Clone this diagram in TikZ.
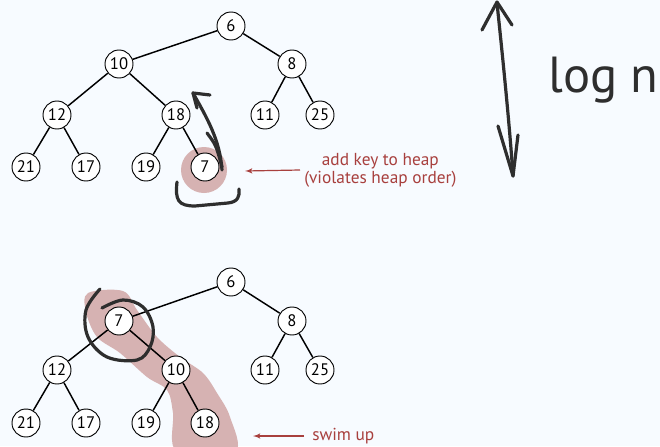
\documentclass[tikz,border=0pt]{standalone}
\usepackage{fontspec}
\setmainfont{PT Sans}
\usetikzlibrary{
  shapes,
  arrows,
  positioning,
}
\definecolor{paper}{HTML}{F7FBFF}
\definecolor{notered}{HTML}{A8403E}
\definecolor{marker}{HTML}{D6B2B2}
\definecolor{ink}{HTML}{2E2E2E}
\tikzstyle{key} = [
circle,
draw,
fill=white,
line width=0.7pt,
minimum size=21pt,
inner sep=0pt,
font=\fontsize{12.5}{14}\selectfont
]
\tikzstyle{link} = [draw, line width=1.1pt]
\tikzstyle{note} = [
text=notered,
align=center,
inner sep=3pt,
font=\fontsize{13}{13.5}\selectfont
]
\tikzstyle{arrow} = [draw, notered, line width=0.9pt, -latex']
\tikzstyle{pen} = [draw, ink, line width=2.4pt, line cap=round, line join=round]

\begin{document}
\begin{tikzpicture}[x=0.75pt, y=-0.75pt]
  \fill[paper] (0,0) rectangle (660,446);
  \useasboundingbox (0,0) rectangle (660,446);

  % Highlights behind the keys
  \fill[marker] (204,170) circle (23);
  \fill[marker] plot[smooth cycle, tension=0.55] coordinates {
    (88,293) (123,291) (137,310) (157,337) (180,357) (203,373) (217,393)
    (230,417) (235,452) (177,452) (173,413) (167,390) (147,377) (120,353)
    (97,337) (86,312)};

  % Place nodes: heap with the new key at the bottom
  \node [key] (a6) at (231,26) {6};
  \node [key] (a10) at (119,64) {10};
  \node [key] (a8) at (292,64) {8};
  \node [key] (a12) at (57,115) {12};
  \node [key] (a18) at (176,115) {18};
  \node [key] (a11) at (265,115) {11};
  \node [key] (a25) at (320,115) {25};
  \node [key] (a21) at (26,167) {21};
  \node [key] (a17) at (86,167) {17};
  \node [key] (a19) at (146,167) {19};
  \node [key] (a7) at (205,167) {7};

  % Place nodes: heap after swim up
  \node [key] (b6) at (231,282) {6};
  \node [key] (b7) at (119,321) {7};
  \node [key] (b8) at (292,321) {8};
  \node [key] (b12) at (57,370) {12};
  \node [key] (b10) at (176,370) {10};
  \node [key] (b11) at (265,370) {11};
  \node [key] (b25) at (320,370) {25};
  \node [key] (b21) at (26,423) {21};
  \node [key] (b17) at (86,423) {17};
  \node [key] (b19) at (146,423) {19};
  \node [key] (b18) at (205,423) {18};

  % Draw edges
  \path [link] (a6) -- (a10);
  \path [link] (a6) -- (a8);
  \path [link] (a10) -- (a12);
  \path [link] (a10) -- (a18);
  \path [link] (a8) -- (a11);
  \path [link] (a8) -- (a25);
  \path [link] (a12) -- (a21);
  \path [link] (a12) -- (a17);
  \path [link] (a18) -- (a19);
  \path [link] (a18) -- (a7);

  \path [link] (b6) -- (b7);
  \path [link] (b6) -- (b8);
  \path [link] (b7) -- (b12);
  \path [link] (b7) -- (b10);
  \path [link] (b8) -- (b11);
  \path [link] (b8) -- (b25);
  \path [link] (b12) -- (b21);
  \path [link] (b12) -- (b17);
  \path [link] (b10) -- (b19);
  \path [link] (b10) -- (b18);

  % Notes
  \node [note, anchor=west] (addkey) at (300,170)
    {add key to heap\\(violates heap order)};
  \coordinate (addtip) at (245,171);
  \path [arrow] (addkey.west) -- (addtip);

  \node [note, anchor=west] (swim) at (308,436) {swim up};
  \coordinate (swimtip) at (253,436);
  \path [arrow] (swim.west) ++(-4,0) -- (swimtip);

  % Pen marks
  \path [pen] (193,93) .. controls (207,118) and (220,140) .. (222,170);
  \path [pen] (210,95) -- (193,93) -- (197,108);
  \path [pen] (207,133) .. controls (216,145) .. (222,167);
  \path [pen] (177,182) .. controls (175,200) and (178,206) .. (195,206)
    -- (228,203) .. controls (238,202) and (240,196) .. (239,189);

  \path [pen] plot[smooth, tension=0.6] coordinates {
    (100,289) (86,310) (88,337) (107,357) (137,360) (150,347) (153,327)
    (143,307) (123,300) (102,308)};

  \path [pen] (497,3) .. controls (503,60) and (510,130) .. (513,176);
  \path [pen] (482,30) -- (497,2) -- (512,25);
  \path [pen] (498,126) -- (513,176) -- (518,135);
  \node [ink, anchor=base west, inner sep=0pt,
    font=\fontsize{38}{38}\selectfont] (logn) at (548,92) {log n};
\end{tikzpicture}
\end{document}
